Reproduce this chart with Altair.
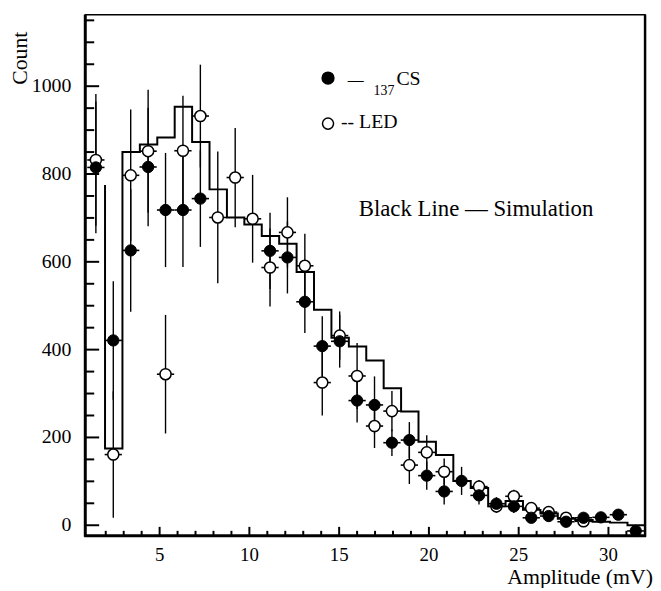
import altair as alt
import pandas as pd

# ---------------- data ----------------
bin_x = [1.45, 2.42, 3.39, 4.36, 5.33, 6.30, 7.27, 8.24, 9.21, 10.18, 11.15, 12.12,
         13.09, 14.06, 15.03, 16.00, 16.97, 17.94, 18.91, 19.88, 20.85, 21.82, 22.79,
         23.76, 24.73, 25.70, 26.67, 27.64, 28.61, 29.58, 30.55, 31.52]
cs_y = [815, 421, 626, 816, 718, 718, 744, None, None, None, 625, 610,
        509, 408, 419, 284, 274, 188, 194, 113, 77, 101, 68,
        49, 43, 17, 21, 8, 17, 18, 24, -13]
cs_err = [150, 135, 140, 135, 130, 130, 110, None, None, None, 87, 82,
          71, 68, 60, 50, 65, 30, 41, 32, 30, 32, 21,
          15, 15, 12, 12, 12, 12, 12, 12, 12]
led_y = [832, 161, 797, 852, 344, 853, 932, 701, 792, 698, 587, 667,
         591, 325, 432, 340, 226, 260, 137, 166, 122, None, 88,
         43, 66, 39, 30, 17, 9, None, None, None]
led_err = [150, 144, 150, 140, 135, 125, 117, 150, 113, 100, 89, 80,
           73, 75, 55, 75, 50, 46, 43, 39, 30, None, 15,
           15, 15, 12, 12, 10, 10, None, None, None]
half_bin = 0.48

sim_edges = [1.96, 1.96, 2.93, 3.90, 4.87, 5.84, 6.81, 7.78, 8.75, 9.72, 10.69, 11.66,
             12.63, 13.60, 14.57, 15.54, 16.51, 17.48, 18.45, 19.42, 20.39, 21.36,
             22.33, 23.30, 24.27, 25.24, 26.21, 27.18, 28.15, 29.12, 30.09, 31.06, 32.03]
sim_vals = [775, 175, 850, 867, 883, 953, 873, 765, 701, 685, 659, 641,
            577, 491, 427, 407, 375, 312, 259, 190, 160, 101,
            85, 43, 55, 35, 27, 15, 12, 8, 6, 0, 0]

y_tick_vals = list(range(0, 1151, 50))
x_tick_vals = list(range(2, 32))
y_label_vals = [0, 200, 400, 600, 800, 1000]
x_label_vals = [5, 10, 15, 20, 25, 30]

# ---------------- layout ----------------
W, H = 565, 526
XDOM = [0.86, 32.04]
YDOM = [-24, 1163]
SERIF = "Liberation Serif"
OX, OY = 86, 12  # page coords of plot origin

xs = alt.Scale(domain=XDOM, nice=False, zero=False)
ys = alt.Scale(domain=YDOM, nice=False, zero=False)


def X(f):
    return alt.X(f, scale=xs, axis=None)


def Y(f):
    return alt.Y(f, scale=ys, axis=None)


rows = []
for i, x in enumerate(bin_x):
    if cs_y[i] is not None:
        rows.append(dict(x=x, y=cs_y[i], lo=cs_y[i] - cs_err[i], hi=cs_y[i] + cs_err[i],
                         xl=x - half_bin, xr=x + half_bin, s="cs"))
    if led_y[i] is not None:
        rows.append(dict(x=x, y=led_y[i], lo=led_y[i] - led_err[i], hi=led_y[i] + led_err[i],
                         xl=x - half_bin, xr=x + half_bin, s="led"))
pts = pd.DataFrame(rows)
cs = pts[pts.s == "cs"]
led = pts[pts.s == "led"]

sim = pd.DataFrame({"x": sim_edges, "y": sim_vals, "i": list(range(len(sim_edges)))})

hist = alt.Chart(sim).mark_line(interpolate="step-after", color="black", strokeWidth=2).encode(
    x=X("x:Q"), y=Y("y:Q"), order="i:Q")

vbars = alt.Chart(pts).mark_rule(color="black", strokeWidth=1.4).encode(
    x=X("x:Q"), y=Y("lo:Q"), y2="hi:Q")
hbars = alt.Chart(pts).mark_rule(color="black", strokeWidth=1.6).encode(
    x=X("xl:Q"), x2="xr:Q", y=Y("y:Q"))
open_pts = alt.Chart(led).mark_point(shape="circle", filled=True, fill="white", stroke="black",
                                     strokeWidth=1.5, size=125, opacity=1).encode(x=X("x:Q"), y=Y("y:Q"))
fill_pts = alt.Chart(cs).mark_point(shape="circle", filled=True, fill="black", stroke="black",
                                    strokeWidth=1, size=130, opacity=1).encode(x=X("x:Q"), y=Y("y:Q"))

ytk = pd.DataFrame({"v": y_tick_vals})
ymaj = alt.Chart(ytk[ytk.v % 200 == 0]).mark_rule(color="black", strokeWidth=2).encode(
    y=Y("v:Q"), x=alt.value(0), x2=alt.value(14))
ymin = alt.Chart(ytk[ytk.v % 200 != 0]).mark_rule(color="black", strokeWidth=2).encode(
    y=Y("v:Q"), x=alt.value(0), x2=alt.value(9))

xtk = pd.DataFrame({"v": x_tick_vals})
xmaj = alt.Chart(xtk[xtk.v % 5 == 0]).mark_rule(color="black", strokeWidth=2).encode(
    x=X("v:Q"), y=alt.value(H), y2=alt.value(H - 9))
xmin = alt.Chart(xtk[xtk.v % 5 != 0]).mark_rule(color="black", strokeWidth=2).encode(
    x=X("v:Q"), y=alt.value(H), y2=alt.value(H - 5))

ylab = alt.Chart(pd.DataFrame({"v": y_label_vals})).mark_text(
    font=SERIF, fontSize=20, align="right", baseline="middle", color="black").encode(
    y=Y("v:Q"), x=alt.value(-14), text="v:N")
xlab = alt.Chart(pd.DataFrame({"v": x_label_vals})).mark_text(
    font=SERIF, fontSize=19, align="center", baseline="middle", color="black").encode(
    x=X("v:Q"), y=alt.value(557 - OY), text="v:N")

one = pd.DataFrame({"a": [0]})
left_line = alt.Chart(one).mark_rule(color="black", strokeWidth=3).encode(
    x=alt.value(0), y=alt.value(0), y2=alt.value(H + 1))
bottom_line = alt.Chart(one).mark_rule(color="black", strokeWidth=3).encode(
    x=alt.value(-1), x2=alt.value(W + 1), y=alt.value(H))
right_line = alt.Chart(one).mark_rule(color="black", strokeWidth=2.5).encode(
    x=alt.value(W), y=alt.value(0), y2=alt.value(H + 1))


def txt(s, px, py, size=18, align="left", angle=0, baseline="middle"):
    kw = dict(font=SERIF, fontSize=size, align=align, baseline=baseline, color="black")
    if angle:
        kw["angle"] = angle
    return alt.Chart(pd.DataFrame({"t": [s]})).mark_text(**kw).encode(
        x=alt.value(px - OX), y=alt.value(py - OY), text="t:N")


leg_fill = alt.Chart(one).mark_point(shape="circle", filled=True, fill="black", stroke="black",
                                     size=130, opacity=1).encode(x=alt.value(331 - OX), y=alt.value(76 - OY))
leg_open = alt.Chart(one).mark_point(shape="circle", filled=True, fill="white", stroke="black",
                                     strokeWidth=1.5, size=125, opacity=1).encode(
    x=alt.value(331 - OX), y=alt.value(122 - OY))

texts = [
    txt("—", 351, 78, 16),
    txt("137", 377, 89, 14),
    txt("CS", 400, 77, 20),
    txt("-- LED", 344, 120, 20),
    txt("Black  Line — Simulation", 362, 208, 23),
    txt("Amplitude  (mV)", 659, 580, 22, align="right"),
    txt("Count", 20, 56, 22, align="center", angle=270),
]

chart = alt.layer(
    hist, vbars, hbars, open_pts, fill_pts,
    ymaj, ymin, xmaj, xmin, left_line, bottom_line, right_line,
    ylab, xlab, leg_open, leg_fill, *texts
).properties(
    width=W, height=H,
    autosize=alt.AutoSizeParams(type="none"),
    padding={"left": 78, "top": 4, "right": 8, "bottom": 50},
).configure_view(stroke="black", strokeWidth=1.5)

chart.save("out.html", embed_options={"renderer": "svg", "actions": False})
